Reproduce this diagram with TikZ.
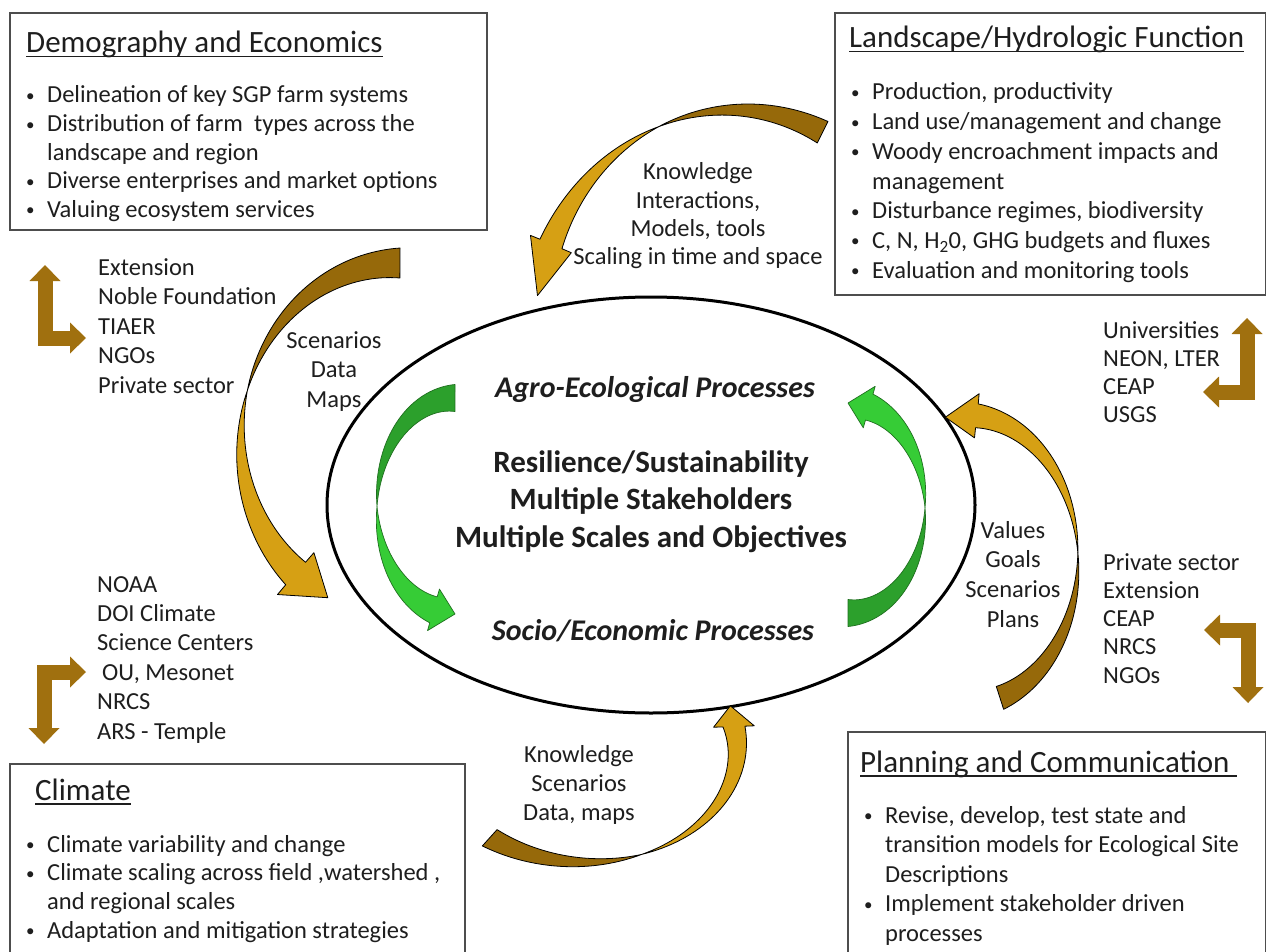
\documentclass[tikz,border=0pt]{standalone}
\usepackage{fontspec}
\setmainfont{Carlito}
\usetikzlibrary{arrows.meta,shapes.geometric}
\definecolor{ink}{HTML}{1E1E1E}
\definecolor{frame}{HTML}{4D4D4D}
\definecolor{golddark}{HTML}{96690A}
\definecolor{goldlight}{HTML}{D6A014}
\definecolor{elbowbrown}{HTML}{A0700F}
\definecolor{greendark}{HTML}{2CA02C}
\definecolor{greenlight}{HTML}{36CC36}
\definecolor{greenedge}{HTML}{1F6F1F}

\newsavebox{\titlebox}
\newcommand{\titleline}[1]{\sbox{\titlebox}{#1}\rlap{\rule[-4.5pt]{\wd\titlebox}{1.5pt}}\usebox{\titlebox}}
\newcommand{\bul}{\makebox[23pt][l]{\hspace*{2pt}\raisebox{1.5pt}{\fontsize{17}{17}\selectfont\textbullet}}}
\newcommand{\cont}{\hspace*{23pt}}
\newcommand{\bhead}{2}
% twisted block arrow along an (elliptic) arc:
% #1 centre, #2/#3 radii, #4 tail angle, #5 head angle, #6 tip angle,
% #7 twist point (0..1), #8 tail spread, #9 half width
\newcommand{\bentarrow}[9]{%
  \begin{scope}[shift={#1}]
    \filldraw[bend back]
      plot[domain=0:#7] ({(#2*(#8+(1-#8)*\x)+#9*(1-\x/#7))*cos(#4+\x*(#5-#4))},
                         {(#3*(#8+(1-#8)*\x)+#9*(1-\x/#7))*sin(#4+\x*(#5-#4))})
      -- plot[domain=#7:0] ({(#2*(#8+(1-#8)*\x)-#9*(1-\x/#7))*cos(#4+\x*(#5-#4))},
                         {(#3*(#8+(1-#8)*\x)-#9*(1-\x/#7))*sin(#4+\x*(#5-#4))})
      -- cycle;
    \filldraw[bend front]
      plot[domain=#7:1] ({(#2*(#8+(1-#8)*\x)+#9*(\x-#7)/(1-#7))*cos(#4+\x*(#5-#4))},
                         {(#3*(#8+(1-#8)*\x)+#9*(\x-#7)/(1-#7))*sin(#4+\x*(#5-#4))})
      -- ({(#2+\bhead*#9)*cos(#5)},{(#3+\bhead*#9)*sin(#5)})
      -- ({#2*cos(#6)},{#3*sin(#6)})
      -- ({(#2-\bhead*#9)*cos(#5)},{(#3-\bhead*#9)*sin(#5)})
      -- plot[domain=1:#7] ({(#2*(#8+(1-#8)*\x)-#9*(\x-#7)/(1-#7))*cos(#4+\x*(#5-#4))},
                         {(#3*(#8+(1-#8)*\x)-#9*(\x-#7)/(1-#7))*sin(#4+\x*(#5-#4))})
      -- cycle;
  \end{scope}}

\tikzset{
  head factor/.code={\renewcommand{\bhead}{#1}},
  gold arrow/.style={line join=round,
    bend back/.style={fill=golddark, draw=black, line width=0.8},
    bend front/.style={fill=goldlight, draw=black, line width=0.8},
    head factor=1.85},
  green arrow/.style={line join=round,
    bend back/.style={fill=greendark, draw=greenedge, line width=0.7},
    bend front/.style={fill=greenlight, draw=greenedge, line width=0.7},
    head factor=1.6},
  frame box/.style={draw=frame, line width=1.6, fill=white, inner sep=0},
  head text/.style={font=\fontsize{31}{37}\selectfont, anchor=base west, inner sep=0, text=ink},
  list text/.style={font=\fontsize{24.5}{#1}\selectfont, anchor=base west, inner sep=0, text=ink},
  list text/.default=29,
  flow text/.style={font=\fontsize{24.5}{#1}\selectfont, anchor=base, inner sep=0, text=ink},
  flow text/.default=29,
  elbow/.style={draw=elbowbrown, line width=15,
    arrows={Triangle[width=31pt,length=16pt,line width=0pt]-Triangle[width=31pt,length=16pt,line width=0pt]}},
}

\begin{document}
\begin{tikzpicture}[x=1pt, y=-1pt, samples=40]
  \useasboundingbox (0,0) rectangle (1268,952);
  \fill[white] (0,0) rectangle (1268,952);

  % topic boxes
  \node[frame box, minimum width=477, minimum height=217] (demo) at (248.5,121.5) {};
  \node[frame box, minimum width=430.5, minimum height=282] (land) at (1050.25,154) {};
  \node[frame box, minimum width=455, minimum height=206] (clim) at (237.5,867) {};
  \node[frame box, minimum width=417.5, minimum height=238] (plan) at (1056.75,851) {};

  \node[head text] (demoT) at (26,53) {\titleline{Demography and Economics}};
  \node[list text=28.6] (demoL) at (24,103) {\begin{tabular}[t]{@{}l@{}}
    \bul Delineation of key SGP farm systems\\
    \bul Distribution of farm \ types across the\\
    \cont landscape and region\\
    \bul Diverse enterprises and market options\\
    \bul Valuing ecosystem services
  \end{tabular}};

  \node[head text] (landT) at (849,48) {\titleline{Landscape/Hydrologic Function}};
  \node[list text=29.7] (landL) at (849,100) {\begin{tabular}[t]{@{}l@{}}
    \bul Production, productivity\\
    \bul Land use/management and change\\
    \bul Woody encroachment impacts and\\
    \cont management\\
    \bul Disturbance regimes, biodiversity\\
    \bul C, N, H\textsubscript{2}0, GHG budgets and fluxes\\
    \bul Evaluation and monitoring tools
  \end{tabular}};

  \node[head text] (climT) at (35,800) {\titleline{Climate}};
  \node[list text=28.7] (climL) at (24,852) {\begin{tabular}[t]{@{}l@{}}
    \bul Climate variability and change\\
    \bul Climate scaling across field ,watershed ,\\
    \cont and regional scales\\
    \bul Adaptation and mitigation strategies
  \end{tabular}};

  \node[head text] (planT) at (860,772) {\titleline{Planning and Communication\ }};
  \node[list text=29.5] (planL) at (862,823) {\begin{tabular}[t]{@{}l@{}}
    \bul Revise, develop, test state and\\
    \cont transition models for Ecological Site\\
    \cont Descriptions\\
    \bul Implement stakeholder driven\\
    \cont processes
  \end{tabular}};

  % central ellipse
  \node[draw=black, line width=3, ellipse, minimum width=648, minimum height=416,
    inner sep=0] (hub) at (651,505) {};

  % inner loop
  \begin{scope}[green arrow]
    \bentarrow{(455,506)}{78}{108}{270}{106}{90}{0.55}{1}{13.5}
    \bentarrow{(848,508)}{77}{105}{90}{-74}{-90}{0.55}{1}{13.5}
  \end{scope}

  % outer loops
  \begin{scope}[gold arrow]
    \bentarrow{(400,440)}{159}{177}{270}{131}{117}{0.53}{1}{15}
    \bentarrow{(735,330)}{200}{220}{296}{203}{189}{0.52}{1}{12}
    \bentarrow{(610,730)}{124}{100}{132}{-2}{-14}{0.4}{1.45}{11}
    \bentarrow{(965,560)}{113}{145}{72}{-84}{-100}{0.48}{1}{12}
  \end{scope}

  \node[font=\fontsize{30}{36}\selectfont\bfseries\itshape, anchor=base, inner sep=0, text=ink]
    (agro) at (655,397) {Agro-Ecological Processes};
  \node[font=\fontsize{31}{37.5}\selectfont\bfseries, anchor=base, inner sep=0, text=ink]
    (core) at (651,472) {\begin{tabular}[t]{@{}c@{}}
      Resilience/Sustainability\\ Multiple Stakeholders\\ Multiple Scales and Objectives
    \end{tabular}};
  \node[font=\fontsize{30}{36}\selectfont\bfseries\itshape, anchor=base, inner sep=0, text=ink]
    (socio) at (653,640) {Socio/Economic Processes};

  % flow labels
  \node[flow text=29.5] (flowA) at (334,348) {\begin{tabular}[t]{@{}c@{}}Scenarios\\ Data\\ Maps\end{tabular}};
  \node[flow text=28.3] (flowB) at (698,180) {\begin{tabular}[t]{@{}c@{}}Knowledge\\ Interactions,\\ Models, tools\\ Scaling in time and space\end{tabular}};
  \node[flow text=29] (flowC) at (579,762) {\begin{tabular}[t]{@{}c@{}}Knowledge\\ Scenarios\\ Data, maps\end{tabular}};
  \node[flow text=29.7] (flowD) at (1013,538) {\begin{tabular}[t]{@{}c@{}}Values\\ Goals\\ Scenarios\\ Plans\end{tabular}};

  % partners
  \node[list text=29.5] (partUL) at (98,275) {\begin{tabular}[t]{@{}l@{}}Extension\\ Noble Foundation\\ TIAER\\ NGOs\\ Private sector\end{tabular}};
  \node[list text=29.4] (partLL) at (97,592) {\begin{tabular}[t]{@{}l@{}}NOAA\\ DOI Climate\\ Science Centers\\ \hspace*{5pt}OU, Mesonet\\ NRCS\\ ARS - Temple\end{tabular}};
  \node[list text=28.3] (partUR) at (1103,338) {\begin{tabular}[t]{@{}l@{}}Universities\\ NEON, LTER\\ CEAP\\ USGS\end{tabular}};
  \node[list text=28.3] (partLR) at (1103,570) {\begin{tabular}[t]{@{}l@{}}Private sector\\ Extension\\ CEAP\\ NRCS\\ NGOs\end{tabular}};

  % elbow arrows
  \coordinate (e1a) at (45,265);   \coordinate (e1b) at (86,338);
  \coordinate (e2a) at (86,672);   \coordinate (e2b) at (44,744);
  \coordinate (e3a) at (1247,318); \coordinate (e3b) at (1203,392);
  \coordinate (e4a) at (1204,630); \coordinate (e4b) at (1248,703);
  \draw[elbow] (e1a) |- (e1b);
  \draw[elbow] (e2a) -| (e2b);
  \draw[elbow] (e3a) |- (e3b);
  \draw[elbow] (e4a) -| (e4b);
\end{tikzpicture}
\end{document}
